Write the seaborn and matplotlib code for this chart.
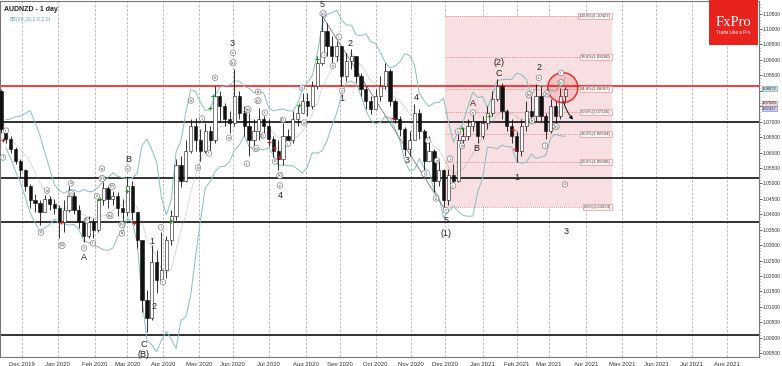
import numpy as np
import pandas as pd
import matplotlib
matplotlib.use("Agg")
import matplotlib.pyplot as plt
import seaborn as sns
from matplotlib.patches import Rectangle, Ellipse

sns.set_style("white")
plt.rcParams['font.family'] = ['Liberation Sans', 'DejaVu Sans']

# AUDNZD, one candle per 3 trading days
first_open = 1.0800
closes = [
    1.0677, 1.0645, 1.0613, 1.0574, 1.0542, 1.0493, 1.0445, 1.0435, 1.0406, 1.0451,
    1.0432, 1.0419, 1.0374, 1.0413, 1.0458, 1.0413, 1.0374, 1.0329, 1.0374, 1.0348,
    1.0445, 1.0484, 1.0451, 1.0458, 1.0419, 1.0406, 1.0493, 1.0406, 1.0316, 1.0122,
    1.0064, 1.0245, 1.0186, 1.0219, 1.0316, 1.0396, 1.0558, 1.0509, 1.0606, 1.0687,
    1.0639, 1.0606, 1.0671, 1.0639, 1.0784, 1.0752, 1.0710, 1.0697, 1.0784, 1.0729,
    1.0687, 1.0639, 1.0671, 1.0710, 1.0687, 1.0645, 1.0606, 1.0580, 1.0655, 1.0639,
    1.0710, 1.0729, 1.0768, 1.0752, 1.0816, 1.0891, 1.0994, 1.0945, 1.0913, 1.0945,
    1.0849, 1.0897, 1.0913, 1.0849, 1.0807, 1.0768, 1.0742, 1.0784, 1.0816, 1.0865,
    1.0768, 1.0710, 1.0677, 1.0613, 1.0639, 1.0729, 1.0671, 1.0574, 1.0606, 1.0509,
    1.0542, 1.0445, 1.0526, 1.0509, 1.0639, 1.0655, 1.0687, 1.0703, 1.0655, 1.0697,
    1.0729, 1.0774, 1.0816, 1.0736, 1.0687, 1.0655, 1.0606, 1.0687, 1.0736, 1.0719,
    1.0784, 1.0719, 1.0671, 1.0752, 1.0719, 1.0784, 1.0807,
]
highs = [
    1.0807, 1.0677, 1.0652, 1.0619, 1.0580, 1.0548, 1.0497, 1.0467, 1.0445, 1.0464,
    1.0458, 1.0451, 1.0429, 1.0445, 1.0490, 1.0471, 1.0429, 1.0387, 1.0396, 1.0387,
    1.0461, 1.0503, 1.0493, 1.0477, 1.0471, 1.0451, 1.0516, 1.0509, 1.0406, 1.0316,
    1.0154, 1.0299, 1.0283, 1.0341, 1.0329, 1.0413, 1.0580, 1.0590, 1.0639, 1.0710,
    1.0713, 1.0677, 1.0697, 1.0687, 1.0816, 1.0800, 1.0761, 1.0736, 1.0871, 1.0800,
    1.0752, 1.0729, 1.0710, 1.0745, 1.0719, 1.0710, 1.0655, 1.0639, 1.0697, 1.0677,
    1.0736, 1.0752, 1.0794, 1.0794, 1.0832, 1.0913, 1.1043, 1.1020, 1.0978, 1.0962,
    1.0945, 1.0923, 1.0936, 1.0913, 1.0858, 1.0816, 1.0784, 1.0807, 1.0849, 1.0891,
    1.0871, 1.0774, 1.0719, 1.0684, 1.0671, 1.0758, 1.0742, 1.0677, 1.0655, 1.0613,
    1.0574, 1.0548, 1.0548, 1.0564, 1.0664, 1.0681, 1.0710, 1.0736, 1.0703, 1.0719,
    1.0752, 1.0800, 1.0839, 1.0826, 1.0742, 1.0710, 1.0671, 1.0710, 1.0768, 1.0784,
    1.0823, 1.0816, 1.0729, 1.0774, 1.0768, 1.0810, 1.0813,
]
lows = [
    1.0664, 1.0632, 1.0600, 1.0564, 1.0522, 1.0477, 1.0419, 1.0406, 1.0364, 1.0406,
    1.0413, 1.0400, 1.0322, 1.0341, 1.0406, 1.0400, 1.0354, 1.0309, 1.0322, 1.0322,
    1.0341, 1.0429, 1.0419, 1.0429, 1.0396, 1.0377, 1.0396, 1.0380, 1.0290, 1.0083,
    1.0018, 1.0057, 1.0144, 1.0186, 1.0193, 1.0299, 1.0380, 1.0487, 1.0503, 1.0600,
    1.0606, 1.0574, 1.0600, 1.0606, 1.0632, 1.0703, 1.0687, 1.0664, 1.0687, 1.0710,
    1.0655, 1.0590, 1.0613, 1.0639, 1.0664, 1.0622, 1.0587, 1.0542, 1.0558, 1.0622,
    1.0632, 1.0687, 1.0729, 1.0719, 1.0742, 1.0807, 1.0885, 1.0913, 1.0881, 1.0897,
    1.0816, 1.0832, 1.0871, 1.0826, 1.0784, 1.0742, 1.0726, 1.0742, 1.0768, 1.0807,
    1.0752, 1.0697, 1.0655, 1.0590, 1.0590, 1.0639, 1.0645, 1.0542, 1.0574, 1.0471,
    1.0493, 1.0422, 1.0429, 1.0484, 1.0503, 1.0622, 1.0639, 1.0671, 1.0632, 1.0645,
    1.0677, 1.0719, 1.0768, 1.0710, 1.0671, 1.0632, 1.0568, 1.0590, 1.0671, 1.0697,
    1.0703, 1.0703, 1.0645, 1.0664, 1.0697, 1.0710, 1.0761,
]

black_levels = [1.0700, 1.0516, 1.0375, 1.0010]
red_level = 1.0815
last_price = 1.08072
side_prices = [1.07590, 1.07417]
fib_low, fib_high = 1.04224, 1.10427
fib_ratios = [0.0, 0.236, 0.382, 0.5, 0.618, 0.786, 1.0]
fib_start, fib_end = "2020-12-01", "2021-04-23"

# wave counts: (trading-day index, price, label)
big_labels = [
    (51.2, 1.0261, "A"), (78.3, 1.0577, "B"), (88.2, 0.9977, "C"), (88.2, 0.9945, "(B)"),
    (93.1, 1.0312, "1"), (94.4, 1.0102, "2"), (142.5, 1.0952, "3"), (172.1, 1.0461, "4"),
    (198.0, 1.1081, "5"), (210.3, 1.0774, "1"), (215.2, 1.0952, "2"), (250.4, 1.0574, "3"),
    (256.0, 1.0778, "4"), (274.4, 1.0380, "5"), (274.4, 1.0338, "(1)"), (291.1, 1.0758, "A"),
    (292.9, 1.0613, "B"), (307.1, 1.0855, "C"), (307.1, 1.0891, "(2)"), (318.2, 1.0519, "1"),
    (331.8, 1.0874, "2"), (348.5, 1.0345, "3"),
]
small_labels = [
    (3.1, 1.0671, "ii"), (1.2, 1.0584, "i"), (24.7, 1.0341, "iii"), (28.4, 1.0477, "iv"),
    (37.6, 1.0299, "(b)"), (43.2, 1.0467, "(c)"), (43.2, 1.0500, "iv"), (51.2, 1.0290, "v"),
    (53.0, 1.0380, "(i)"), (56.7, 1.0306, "ii"), (59.2, 1.0458, "iii"), (62.3, 1.0516, "(v)"),
    (62.3, 1.0548, "a"), (68.5, 1.0490, "(b)"), (67.2, 1.0396, "(a)"), (74.6, 1.0367, "(c)"),
    (74.6, 1.0338, "b"), (78.3, 1.0548, "c"),
    (98.7, 1.0358, "i"), (99.9, 1.0180, "ii"), (117.2, 1.0768, "iii"), (121.5, 1.0551, "iv"),
    (124.0, 1.0710, "i"), (128.3, 1.0597, "ii"), (132.0, 1.0842, "iii"), (140.6, 1.0648, "iv"),
    (143.1, 1.0923, "v"), (143.1, 1.0891, "(v)"), (152.3, 1.0739, "(a)"), (151.7, 1.0564, "ii"),
    (157.3, 1.0613, "(b)"), (158.5, 1.0768, "(c)"), (158.5, 1.0797, "b"), (162.8, 1.0729, "ii"),
    (161.6, 1.0655, "(i)"), (169.0, 1.0571, "iii"), (172.0, 1.0526, "(v)"), (172.0, 1.0493, "c"),
    (173.9, 1.0706, "(i)"), (177.0, 1.0629, "ii"), (185.6, 1.0810, "iii"), (186.9, 1.0697, "iv"),
    (198.6, 1.1050, "(v)"), (199.2, 1.0916, "i"), (208.4, 1.0975, "ii"), (204.7, 1.0881, "iii"),
    (210.3, 1.0800, "v"), (263.3, 1.0639, "ii"), (260.9, 1.0532, "i"), (268.9, 1.0574, "iv"),
    (268.3, 1.0451, "iii"), (274.4, 1.0413, "v"), (276.9, 1.0580, "i"), (278.8, 1.0493, "ii"),
    (281.8, 1.0668, "iii"), (284.3, 1.0622, "iv"), (291.1, 1.0729, "v"), (325.6, 1.0787, "(a)"),
    (327.5, 1.0703, "b"), (331.8, 1.0842, "c"), (335.5, 1.0622, "i"), (336.7, 1.0790, "(a)"),
    (342.3, 1.0684, "(b)"), (345.4, 1.0826, "(c)"), (345.4, 1.0858, "ii"), (347.8, 1.0497, "iii"),
]
green_marks = [(61.1, 1.0451), (77.7, 1.0474), (104.8, 1.0377), (128.9, 1.0745), (130.7, 1.0784),
               (183.8, 1.0755), (194.9, 1.0903), (284.3, 1.0681), (301.0, 1.0719)]
red_marks = [(1.2, 1.0642), (37.0, 1.0374), (82.0, 1.0371), (165.3, 1.0635), (168.4, 1.0616),
             (171.4, 1.0587), (241.7, 1.0713), (315.8, 1.0674), (317.0, 1.0610)]

days = pd.bdate_range("2019-11-13", "2021-08-31")
df = pd.DataFrame({"x": np.arange(len(closes)) * 3, "open": [first_open] + closes[:-1],
                   "high": highs, "low": lows, "close": closes})
roll = df["close"].rolling(7, min_periods=2)
df["mid"] = roll.mean()
df["upper"] = df["mid"] + 2 * roll.std()
df["lower"] = df["mid"] - 2 * roll.std()

fig = plt.figure(figsize=(7.82, 3.66), dpi=100)
ax = fig.add_axes([0.0, 9 / 366, 759 / 782, 356 / 366])

ax.set_xlim(-0.6, 467.5)
ax.set_ylim(0.99377, 1.10908)

# month grid
months = pd.date_range("2019-12-01", "2021-08-01", freq="MS")
tick_pos = [days.searchsorted(m) for m in months]
for p in tick_pos:
    ax.axvline(p, color="#b0b0b0", lw=0.6, ls=(0, (3, 2)), zorder=0)
ax.set_xticks(tick_pos)
ax.set_xticklabels([m.strftime("%b %Y") for m in months], fontsize=4.3, color="#333333")

# fibonacci box
fs, fe = days.searchsorted(pd.Timestamp(fib_start)), days.searchsorted(pd.Timestamp(fib_end))
ax.add_patch(Rectangle((fs, fib_low), fe - fs, fib_high - fib_low, fc="#f8dfe1", ec="none", zorder=0.5))
for r in fib_ratios:
    lvl = fib_low + r * (fib_high - fib_low)
    ax.plot([fs, fe], [lvl, lvl], color="#e06c6c", lw=0.6, ls=(0, (1, 1.5)), zorder=0.6)
    ax.text(fe - 0.8, lvl, f"{r*100:.1f}%({lvl:.5f})", fontsize=3.1, ha="right", va="center",
            color="#444444", zorder=5,
            bbox=dict(boxstyle="square,pad=0.25", fc="#fdf3f3", ec="#e08080", lw=0.4))

# horizontal levels
for lvl in black_levels:
    ax.axhline(lvl, color="#222222", lw=1.3, zorder=1)
ax.axhline(red_level, color="#ff1a1a", lw=1.2, zorder=1)

# bollinger bands
sns.lineplot(data=df, x="x", y="upper", ax=ax, color="#86bfc0", lw=0.7, zorder=2)
sns.lineplot(data=df, x="x", y="lower", ax=ax, color="#86bfc0", lw=0.7, zorder=2)
sns.lineplot(data=df, x="x", y="mid", ax=ax, color="#999999", lw=0.5, ls=(0, (1, 1)), zorder=2)

# channel line from the top to the low of wave (1)
i_hi = int(np.argmax(highs))
i_lo = i_hi + int(np.argmin(lows[i_hi:]))
ax.plot([df.x[i_hi], df.x[i_lo]], [highs[i_hi], lows[i_lo]], color="#777777", lw=0.6, zorder=2)

# candles
up = df["close"] >= df["open"]
ax.vlines(df["x"], df["low"], df["high"], color="#111111", lw=0.6, zorder=3)
body_lo = df[["open", "close"]].min(axis=1)
body_h = (df["close"] - df["open"]).abs().clip(lower=0.0002)
ax.bar(df["x"][up], body_h[up], bottom=body_lo[up], width=2.0, color="white",
       edgecolor="#111111", lw=0.4, zorder=4)
ax.bar(df["x"][~up], body_h[~up], bottom=body_lo[~up], width=2.0, color="#111111",
       edgecolor="#111111", lw=0.4, zorder=4)

ax.scatter([g[0] for g in green_marks], [g[1] for g in green_marks], marker="+", s=9,
           color="#1aa01a", lw=0.8, zorder=5)
ax.scatter([r[0] for r in red_marks], [r[1] for r in red_marks], marker="+", s=9,
           color="#cc1a1a", lw=0.8, zorder=5)

for x, y, t in big_labels:
    ax.text(x, y, t, fontsize=6.5, ha="center", va="center", color="#222222", zorder=6)
for x, y, t in small_labels:
    ax.text(x, y, t, fontsize=2.8, ha="center", va="center", color="#222222", zorder=6,
            bbox=dict(boxstyle="circle,pad=0.2", fc="white", ec="#666666", lw=0.4))

# projected move and highlight circle
lx = df.x.iloc[-1]
ax.annotate("", xy=(lx + 6, 1.0700), xytext=(lx - 1.5, 1.0776),
            arrowprops=dict(arrowstyle="-|>", color="#111111", lw=0.7,
                            mutation_scale=5, connectionstyle="arc3,rad=0.15"), zorder=6)
ax.add_patch(Ellipse((lx - 1.5, 1.0810), 18.5, 0.0097, fc=(1, 0, 0, 0.12), ec="#ee2222",
                     lw=1.0, zorder=5))

# right price axis (labels hidden behind the price boxes are left out, as in the terminal)
ax.yaxis.tick_right()
yt = np.arange(0.995, 1.1051, 0.005)
ax.set_yticks(yt)
ax.set_yticklabels(["" if abs(v - 1.08) < 1e-6 or abs(v - 1.075) < 1e-6 else f"{v:.5f}" for v in yt],
                   fontsize=3.5, color="#333333")
ax.set_yticks(np.arange(0.994, 1.109, 0.001), minor=True)
ax.tick_params(axis="y", which="major", length=2.0, width=0.5, pad=0.6)
ax.tick_params(axis="y", which="minor", length=1.0, width=0.4)
ax.tick_params(axis="x", length=2.5, width=0.5, pad=1)
for s in ax.spines.values():
    s.set_color("#777777")
    s.set_linewidth(0.8)
ax.set_xlabel("")
ax.set_ylabel("")

yt_tr = ax.get_yaxis_transform()
box_styles = [("#cfe3e3", "#6a9a9a"), ("#f3d0d6", "#c08080"), ("#c8d0f0", "#7080c0")]
for price, (fc, ec) in zip([last_price] + side_prices, box_styles):
    ax.text(1.004, price, f"{price:.5f}", transform=yt_tr, fontsize=3.0, va="center",
            ha="left", bbox=dict(boxstyle="square,pad=0.1", fc=fc, ec=ec, lw=0.4))

# header
ax.text(0.005, 0.985, "AUDNZD - 1 day", transform=ax.transAxes, fontsize=5, fontweight="bold",
        va="top", ha="left", color="#222222")
ax.text(0.013, 0.955, "BB(20,20,2.0,2.0)", transform=ax.transAxes, fontsize=3.8,
        va="top", ha="left", color="#5fa8a8")

# FxPro logo
fig.patches.append(Rectangle((709 / 782, 1 - 45 / 366), 49 / 782, 45 / 366,
                             transform=fig.transFigure, fc="#e8231e", ec="none", zorder=10))
fig.text(733.5 / 782, 1 - 22 / 366, "FxPro", fontsize=10.5, color="white", ha="center",
         va="center", family=["Liberation Serif", "DejaVu Serif"], zorder=11)
fig.text(733.5 / 782, 1 - 32 / 366, "Trade Like a Pro", fontsize=3.3, color="white",
         ha="center", va="center", zorder=11)

fig.savefig("out.png", dpi=100)
